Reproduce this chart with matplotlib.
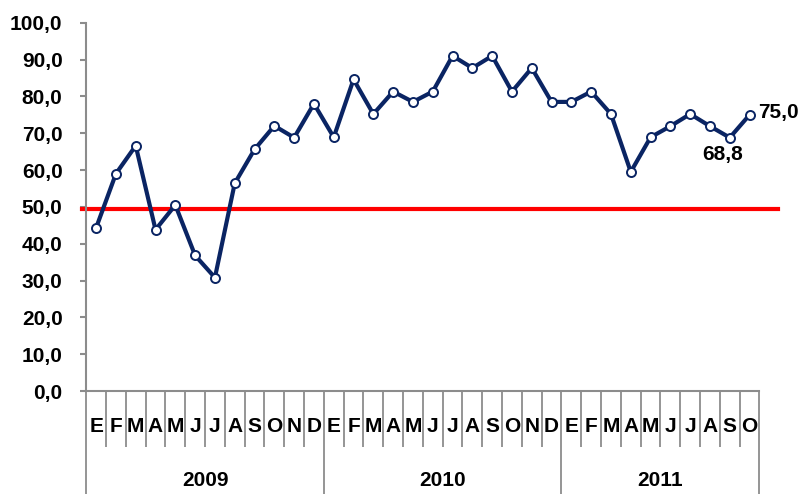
import matplotlib.pyplot as plt
import matplotlib.transforms as mtransforms

plt.rcParams['font.family'] = ['Liberation Sans', 'DejaVu Sans']

years = ["2009", "2010", "2011"]
months_per_year = [12, 12, 10]
month_letters = ["E", "F", "M", "A", "M", "J", "J", "A", "S", "O", "N", "D"]

values_2009 = [44.3, 59.0, 66.6, 43.8, 50.5, 36.8, 30.8, 56.4, 65.6, 72.0, 68.8, 78.0]
values_2010 = [68.9, 84.6, 75.2, 81.3, 78.5, 81.3, 91.0, 87.7, 91.0, 81.3, 87.7, 78.5]
values_2011 = [78.5, 81.3, 75.2, 59.5, 68.9, 71.9, 75.2, 71.9, 68.8, 75.0]

threshold = 49.5
yticks = [0, 10, 20, 30, 40, 50, 60, 70, 80, 90, 100]

NAVY = "#0a2463"
GRAY = "#8c8c8c"


def fmt(v):
    return ("%.1f" % v).replace(".", ",")


values = values_2009 + values_2010 + values_2011
labels = []
for n in months_per_year:
    labels += month_letters[:n]
n_total = len(values)
xs = [i + 0.5 for i in range(n_total)]

fig = plt.figure(figsize=(8.02, 4.94), dpi=100)
ax = fig.add_axes([0.1075, 0.2085, 0.8395, 0.7455])

# threshold line, runs a bit past the axis on the right
trans = mtransforms.blended_transform_factory(ax.transAxes, ax.transData)
ax.plot([-0.006, 1.028], [threshold, threshold], color="#ff0000", lw=3.0,
        transform=trans, clip_on=False, zorder=2)

ax.plot(xs, values, color=NAVY, lw=3.0, marker="o", markersize=6.5,
        markerfacecolor="white", markeredgecolor=NAVY, markeredgewidth=1.4,
        zorder=3, clip_on=False)

ax.set_xlim(0, n_total)
ax.set_ylim(0, 100)
ax.set_yticks(yticks)
ax.set_yticklabels([fmt(v) for v in yticks], fontsize=15, fontweight="bold")
ax.tick_params(axis="y", direction="out", length=4, width=1.5, color=GRAY, pad=13)

for s in ["top", "right"]:
    ax.spines[s].set_visible(False)
for s in ["left", "bottom"]:
    ax.spines[s].set_color(GRAY)
    ax.spines[s].set_linewidth(1.5)

# month dividers (minor) and year dividers (major)
bounds = [0]
for n in months_per_year:
    bounds.append(bounds[-1] + n)
ax.set_xticks(bounds)
ax.set_xticklabels([])
ax.set_xticks(list(range(n_total + 1)), minor=True)
ax.tick_params(axis="x", which="major", direction="out", length=80, width=1.3, color=GRAY)
ax.tick_params(axis="x", which="minor", direction="out", length=40, width=1.3, color=GRAY)

xtrans = ax.get_xaxis_transform()
for x, lab in zip(xs, labels):
    ax.text(x, -0.097, lab, transform=xtrans, ha="center", va="center",
            fontsize=15, fontweight="bold", clip_on=False)
for i, y in enumerate(years):
    ax.text((bounds[i] + bounds[i + 1]) / 2, -0.242, y, transform=xtrans,
            ha="center", va="center", fontsize=15, fontweight="bold")

# value labels for the last two points
ax.annotate(fmt(values[-2]), (xs[-2], values[-2]),
            xytext=(-5, -12), textcoords="offset points", ha="center", va="center",
            fontsize=15, fontweight="bold")
ax.annotate(fmt(values[-1]), (xs[-1], values[-1]),
            xytext=(6, 2), textcoords="offset points", ha="left", va="center",
            fontsize=15, fontweight="bold")

fig.savefig("out.png", dpi=100)
